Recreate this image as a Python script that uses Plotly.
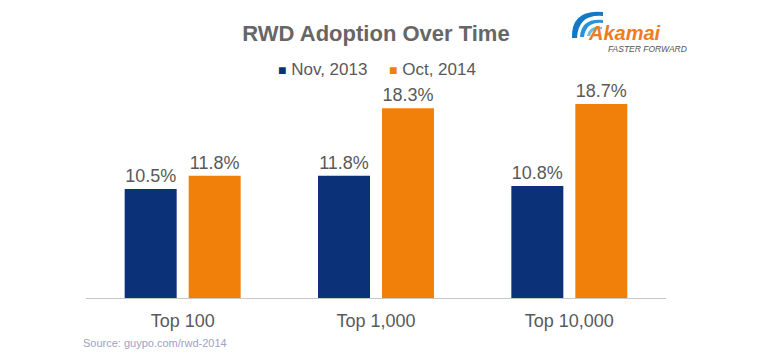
import plotly.graph_objects as go

categories = ["Top 100", "Top 1,000", "Top 10,000"]
nov_2013 = [10.5, 11.8, 10.8]
oct_2014 = [11.8, 18.3, 18.7]
series_names = ["Nov, 2013", "Oct, 2014"]
series_colors = ["#0b3279", "#f0800a"]

W, H = 776, 359
L, R, T, B = 86, 110, 60, 61
PW = W - L - R
PH = H - T - B

def px(x):
    return (x - L) / PW

def py(y):
    return (H - B - y) / PH

FONT = "Liberation Sans, Arial, sans-serif"
GRAY = "#595959"

fig = go.Figure()
for name, vals, col in zip(series_names, [nov_2013, oct_2014], series_colors):
    fig.add_trace(go.Bar(
        x=categories, y=vals, name=name,
        marker=dict(color=col, line=dict(width=0)),
        text=[f"{v:.1f}%" for v in vals], textposition="outside",
        textfont=dict(size=18, color=GRAY, family=FONT), cliponaxis=False,
        showlegend=False,
    ))

# Akamai logo swoosh (decoration)
def p(x, y):
    return f"{px(x):.4f},{py(y):.4f}"

swoosh_outer = f"M {p(572,38)} Q {p(571,9)} {p(603,12)} L {p(603,16)} Q {p(578,14)} {p(577,38)} Z"
swoosh_mid = f"M {p(580,37)} Q {p(581,18)} {p(603,20)} L {p(603,23)} Q {p(586,21)} {p(584,37)} Z"
swoosh_in = f"M {p(587,36)} Q {p(589,25)} {p(602,27)} L {p(602,29)} Q {p(592,28)} {p(590,36)} Z"

shapes = [
    dict(type="path", xref="paper", yref="paper", path=swoosh_outer,
         fillcolor="#1578c2", line=dict(width=0)),
    dict(type="path", xref="paper", yref="paper", path=swoosh_mid,
         fillcolor="#2a93d8", line=dict(width=0)),
    dict(type="path", xref="paper", yref="paper", path=swoosh_in,
         fillcolor="#74bde8", line=dict(width=0)),
]

annotations = [
    dict(text="<b><i>Akamai</i></b>", x=px(586), y=py(33), xref="paper", yref="paper",
         xanchor="left", yanchor="middle", showarrow=False,
         font=dict(size=20, color="#ee7c1f", family=FONT)),
    dict(text="<i>FASTER FORWARD</i>", x=px(606), y=py(49), xref="paper", yref="paper",
         xanchor="left", yanchor="middle", showarrow=False,
         font=dict(size=8.5, color="#555555", family=FONT)),
    dict(text="Source: guypo.com/rwd-2014", x=px(81), y=py(343), xref="paper", yref="paper",
         xanchor="left", yanchor="middle", showarrow=False,
         font=dict(size=11, color="#9ea2c2", family=FONT)),
]

# legend drawn as text entries (small square + label)
legend_x = [276, 387]
for name, col, lx in zip(series_names, series_colors, legend_x):
    annotations.append(dict(
        text=f"<span style='color:{col};font-size:14px'>■</span> {name}",
        x=px(lx), y=py(70), xref="paper", yref="paper",
        xanchor="left", yanchor="middle", showarrow=False,
        font=dict(size=17, color=GRAY, family=FONT)))

fig.update_layout(
    width=W, height=H,
    margin=dict(l=L, r=R, t=T, b=B),
    paper_bgcolor="white", plot_bgcolor="white",
    title=dict(text="<b>RWD Adoption Over Time</b>", x=376 / W, xanchor="center",
               y=1 - 33 / H, yanchor="middle",
               font=dict(size=22, color="#666666", family=FONT)),
    barmode="group", bargap=0.338, bargroupgap=0.1875,
    xaxis=dict(showline=True, linecolor="#c8c8c8", linewidth=1, ticks="",
               ticklabelstandoff=6,
               tickfont=dict(size=18, color=GRAY, family=FONT), showgrid=False),
    yaxis=dict(range=[0, PH / 10.37], visible=False, showgrid=False, zeroline=False),
    shapes=shapes, annotations=annotations,
    showlegend=False,
)

fig.write_html("out.html", config={"displayModeBar": False},
               post_script="document.body.style.margin='0';document.body.style.padding='0';")
